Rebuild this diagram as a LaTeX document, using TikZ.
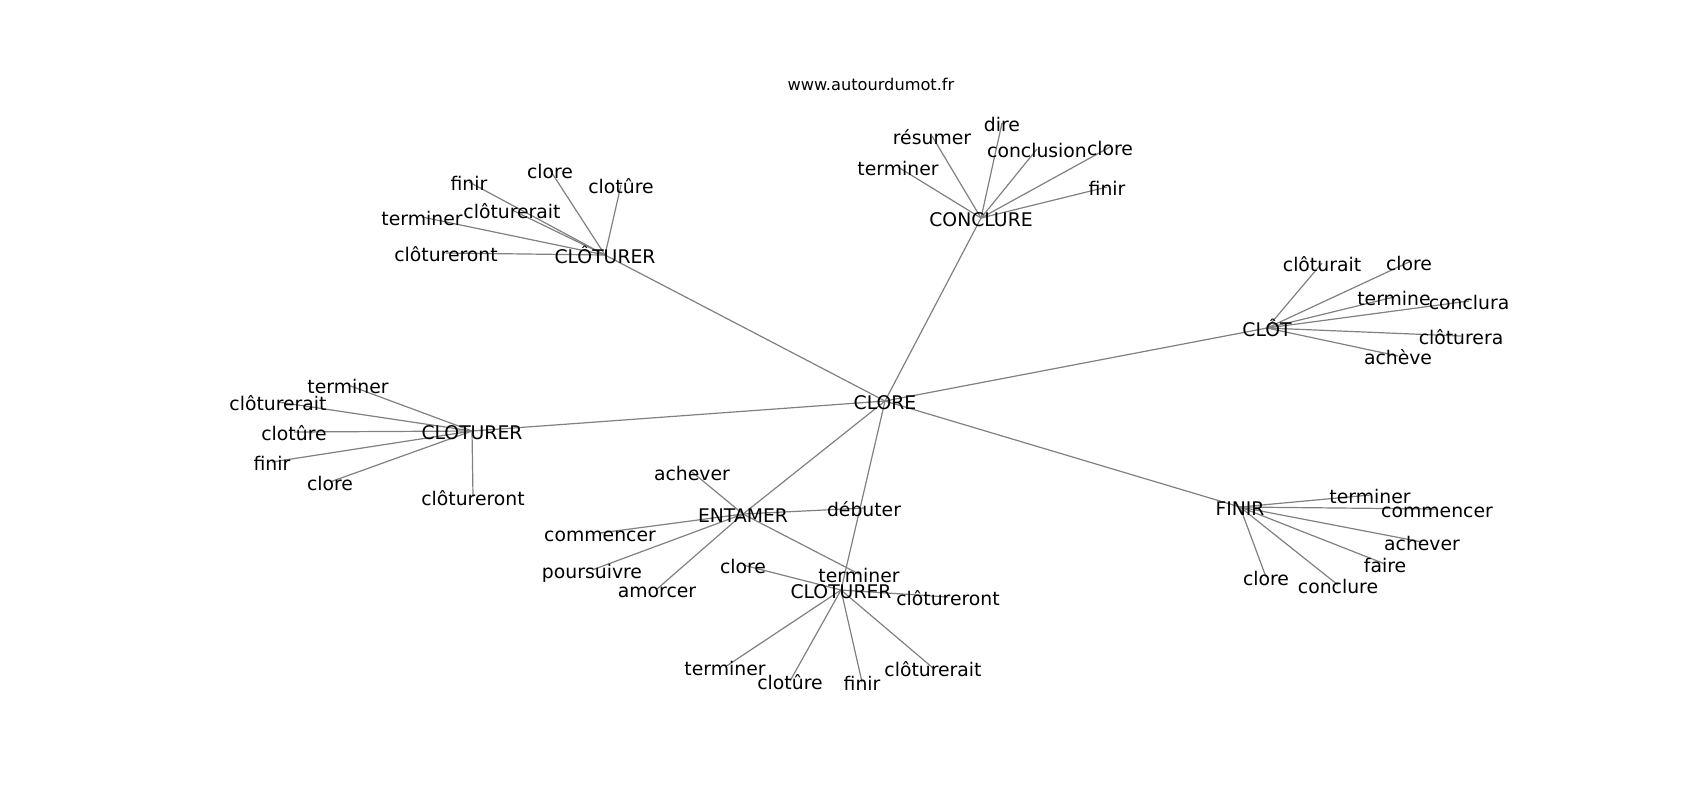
\documentclass[tikz,border=0pt]{standalone}
\usepackage{fontspec}
\setmainfont{DejaVu Sans}
\usetikzlibrary{backgrounds}
\begin{document}
\begin{tikzpicture}[x=0.5pt,y=-0.5pt,
  word/.style={font=\fontsize{9.4}{11}\selectfont,inner sep=0pt,text height=.95em,text depth=.1em},
  edge/.style={draw=gray,line width=0.6pt}]
\useasboundingbox (0,0) rectangle (1700,800);

\node[font=\fontsize{8.1}{10}\selectfont,inner sep=0pt,text height=.95em,text depth=.1em] (site) at (871,82) {www.autourdumot.fr};

% le mot central et ses voisins
\node[word] (clore) at (885,401) {CLORE};
\node[word] (concl) at (981,218) {CONCLURE};
\node[word] (clota) at (605,255) {CLÔTURER};
\node[word] (clotb) at (472,431) {CLOTURER};
\node[word] (clot) at (1267,328) {CLÔT};
\node[word] (fin) at (1240,507) {FINIR};
\node[word] (ent) at (743,514) {ENTAMER};
\node[word] (clotc) at (841,590) {CLOTURER};

% les feuilles
\foreach \x/\y/\t [count=\i] in {898/167/terminer,932/136/résumer,1002/123/dire,
    1037/149/conclusion,1110/147/clore,1107/187/finir}
  \node[word] (concl\i) at (\x,\y) {\t};
\foreach \x/\y/\t [count=\i] in {469/182/finir,550/170/clore,621/185/clotûre,
    512/210/clôturerait,422/217/terminer,446/253/clôtureront}
  \node[word] (clota\i) at (\x,\y) {\t};
\foreach \x/\y/\t [count=\i] in {348/385/terminer,278/402/clôturerait,294/432/clotûre,
    272/462/finir,330/482/clore,473/497/clôtureront}
  \node[word] (clotb\i) at (\x,\y) {\t};
\foreach \x/\y/\t [count=\i] in {1322/263/clôturait,1409/262/clore,1394/297/termine,
    1469/301/conclura,1461/336/clôturera,1398/356/achève}
  \node[word] (clot\i) at (\x,\y) {\t};
\foreach \x/\y/\t [count=\i] in {1370/495/terminer,1437/509/commencer,1422/542/achever,
    1385/564/faire,1338/585/conclure,1266/577/clore}
  \node[word] (fin\i) at (\x,\y) {\t};
\foreach \x/\y/\t [count=\i] in {692/472/achever,864/508/débuter,600/533/commencer,
    592/570/poursuivre,657/589/amorcer,859/574/terminer}
  \node[word] (ent\i) at (\x,\y) {\t};
\foreach \x/\y/\t [count=\i] in {743/565/clore,948/597/clôtureront,725/667/terminer,
    790/681/clotûre,862/682/finir,933/668/clôturerait}
  \node[word] (clotc\i) at (\x,\y) {\t};

\begin{pgfonlayer}{background}
\foreach \h in {concl,clota,clotb,clot,fin,ent,clotc}
  \draw[edge] (clore.center) -- (\h.center);
\foreach \h in {concl,clota,clotb,clot,fin,ent,clotc}
  \foreach \i in {1,...,6}
    \draw[edge] (\h.center) -- (\h\i.center);
\end{pgfonlayer}

\end{tikzpicture}
\end{document}
